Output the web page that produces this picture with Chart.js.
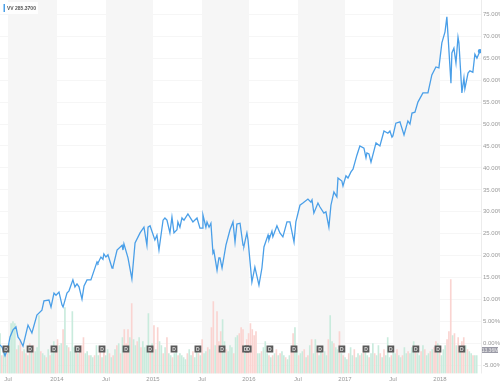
<!DOCTYPE html>
<html>
<head>
<meta charset="utf-8">
<style>
  html, body { margin: 0; padding: 0; background: #fff; }
  canvas { display: block; }
</style>
<script src="https://cdn.jsdelivr.net/npm/chart.js@4"></script>
</head>
<body>
<canvas id="chart" width="500" height="384"></canvas>
<script>
// weeks since the left edge of the chart
const priceWeeks = [
  0, 1.1, 2.7, 4.3, 5.4, 7, 8.6, 9.7, 10.8, 12.4, 15.1, 17.2, 19.9, 22.6, 23.7, 26.4, 27.5, 29.1, 30.2, 31.8,
  33.4, 34, 36.1, 37.2, 39.3, 40.4, 41.5, 42.6, 44.2, 45.3, 46.9, 49, 52.3, 52.8, 54.4, 55.5, 56, 57.1, 58.2, 60.4,
  60.9, 63.1, 65.8, 66.3, 66.8, 69, 71.1, 72.8, 75.5, 77.6, 79.2, 79.8, 80.9, 83.5, 84.6, 85.7, 87.9, 88.9, 90, 91.6,
  92.7, 93.8, 95.4, 95.9, 97, 98.1, 99.2, 101.3, 104, 106.2, 107.8, 108.9, 109.4, 111, 111.6, 112.7, 113.7, 114.8, 115.3, 117,
  118, 118.6, 119.7, 121.8, 124, 125.6, 126.7, 127.7, 129.4, 131, 131.5, 133.1, 133.7, 135.8, 137.4, 139.6, 141.2, 142.3, 144.5, 145,
  146.6, 147.1, 149.3, 150.9, 152.5, 154.7, 156.3, 158.5, 159.5, 161.7, 163.3, 166, 167.6, 168.2, 169.2, 171.4, 172.5, 174.6, 175.7, 177.3,
  178.4, 180, 181.6, 182.2, 184.3, 184.9, 186.5, 187.6, 189.2, 190.3, 192.4, 194, 196.2, 197.3, 197.8, 198.9, 200, 202.7, 204.8, 207,
  209.1, 210.2, 211.3, 211.8, 213.4, 215.6, 217.8, 219.9, 221, 222.1, 223.7, 225.3, 228, 230.7, 232.8, 235, 236.6, 238.2, 239.9, 240.9,
  243.1, 243.6, 244.7, 245.8, 246.9, 247.4, 249, 250.1, 250.6, 252.3, 253.3, 254.9, 256, 257.1, 258.7
];
// percent change
const priceValues = [
  -0.3, -0.8, -2.8, -1, 1.5, 3.1, 3.8, 1.5, 0.8, -0.6, 4.2, 2.4, 6.5, 7.6, 9.7, 9.9, 8.3, 11.5, 11, 11.7,
  8.8, 8.3, 11.5, 12, 14.5, 12.9, 13.6, 12.9, 10.1, 13.1, 14.5, 14.5, 18.6, 18.3, 19.7, 19.2, 20.4, 19.7, 20.2, 17.2,
  17.4, 21.3, 22.4, 21.3, 22.7, 19.5, 14.7, 22.9, 25.2, 26.5, 22.4, 26.5, 26.8, 23.6, 24.7, 21.3, 28.1, 28.6, 28.1, 25.2,
  28.8, 25.2, 25.9, 27.7, 26.5, 28.6, 28.1, 29.5, 27.7, 28.6, 26.3, 26.3, 29.3, 26.5, 27.7, 26.5, 27.4, 20.6, 21.1, 16.7,
  19.5, 19.5, 17.2, 22.4, 25.9, 27.7, 23.1, 27.2, 27.4, 22.4, 22.2, 25.2, 23.6, 14, 17.4, 13.3, 17.2, 22, 24.7, 23.6,
  25.6, 24.3, 26.8, 25.2, 24.3, 27.7, 27.7, 23.1, 27.7, 31.5, 32, 32.9, 32.2, 32.7, 29.7, 32, 31.1, 29.7, 30, 26.5,
  31.5, 34.5, 33.4, 37.7, 37, 35.9, 38.2, 37.7, 39.1, 39.7, 42.9, 45, 44.5, 42.3, 43.4, 43.2, 41.3, 45.7, 45, 48.4,
  47.9, 48.4, 47, 47.3, 50.2, 50.5, 47.5, 50.7, 50, 52.5, 52.7, 55, 57.1, 57.1, 61.2, 63, 62.8, 68.5, 71, 74.4,
  59.3, 66.2, 67.3, 63.9, 69.8, 68.5, 57.1, 60.5, 58, 61.6, 62.1, 61.8, 65.9, 65, 66.6
];
// weekly volume, millions of shares
const volumeValues = [
  20, 9, 11, 10, 10, 15, 25, 26, 25, 12,
  14, 17, 11, 12, 10, 9, 15, 12, 14, 11,
  13, 29, 11, 10, 9, 8, 12, 9, 10, 16,
  12, 17, 14, 15, 22, 33, 14, 13, 11, 31,
  13, 12, 10, 12, 14, 18, 10, 11, 9, 9,
  8, 9, 14, 9, 11, 8, 13, 9, 12, 10,
  8, 9, 12, 14, 15, 10, 18, 22, 15, 22,
  18, 35, 17, 14, 16, 18, 13, 16, 13, 14,
  30, 13, 15, 24, 12, 23, 16, 14, 10, 13,
  18, 10, 9, 8, 10, 11, 9, 10, 9, 8,
  7, 10, 12, 9, 11, 8, 13, 10, 9, 17,
  10, 11, 13, 12, 23, 36, 14, 31, 16, 21,
  27, 16, 12, 11, 14, 13, 10, 18, 19, 20,
  23, 22, 14, 17, 20, 25, 22, 19, 21, 10,
  10, 11, 13, 16, 10, 9, 8, 9, 10, 12,
  9, 10, 11, 9, 8, 7, 9, 13, 20, 23,
  12, 9, 10, 11, 12, 8, 9, 14, 17, 10,
  17, 12, 9, 11, 10, 11, 9, 17, 29, 16,
  15, 13, 12, 21, 10, 9, 8, 7, 10, 13,
  9, 12, 8, 10, 9, 10, 13, 11, 9, 8,
  10, 15, 10, 9, 14, 10, 8, 12, 9, 18,
  8, 9, 11, 10, 12, 9, 8, 9, 13, 10,
  11, 10, 13, 16, 12, 10, 9, 11, 14, 12,
  9, 10, 11, 12, 13, 16, 15, 11, 9, 12,
  14, 17, 21, 47, 19, 20, 14, 18, 13, 16,
  18, 14, 12, 11, 10, 9, 9, 9
];
// 1 = up week, 0 = down week
const volumeUp = [
  1, 0, 1, 1, 0, 1, 1, 1, 1, 0,
  1, 0, 0, 1, 0, 1, 0, 1, 0, 1,
  1, 1, 0, 1, 1, 0, 1, 0, 1, 1,
  0, 0, 1, 1, 0, 1, 1, 0, 1, 1,
  1, 0, 1, 0, 0, 0, 1, 1, 0, 1,
  1, 0, 1, 1, 0, 1, 0, 1, 1, 0,
  1, 0, 1, 0, 1, 0, 1, 0, 0, 0,
  1, 0, 1, 1, 0, 1, 0, 1, 1, 1,
  1, 0, 1, 0, 1, 0, 1, 1, 0, 1,
  0, 1, 1, 0, 1, 1, 0, 1, 1, 1,
  1, 0, 1, 1, 0, 1, 1, 0, 1, 0,
  1, 1, 0, 1, 0, 0, 1, 0, 0, 0,
  1, 1, 0, 1, 1, 1, 0, 1, 1, 0,
  0, 0, 1, 0, 0, 0, 0, 0, 0, 1,
  1, 0, 1, 1, 1, 0, 1, 0, 1, 0,
  1, 0, 1, 1, 0, 1, 1, 0, 0, 1,
  1, 0, 1, 1, 0, 1, 0, 1, 0, 1,
  1, 0, 1, 1, 0, 1, 1, 0, 1, 1,
  0, 1, 1, 0, 1, 0, 1, 1, 0, 1,
  1, 0, 1, 1, 0, 1, 0, 1, 1, 0,
  1, 1, 0, 1, 1, 0, 1, 0, 1, 1,
  1, 0, 1, 1, 0, 1, 1, 0, 1, 1,
  0, 1, 1, 1, 0, 1, 1, 0, 1, 0,
  1, 1, 0, 1, 0, 0, 1, 0, 1, 1,
  1, 0, 0, 0, 1, 0, 1, 0, 1, 0,
  0, 1, 0, 1, 1, 0, 1, 1
];
const dividendWeeks = [
  3.2, 16.2, 29.1, 42, 55, 67.9, 80.9, 93.8, 106.7, 119.7,
  132.4, 133.8, 145.5, 158.5, 172.5, 184.3, 197.3, 210.7, 224.2, 236.1, 249
];
const xTickWeeks = [4.3, 30.7, 57.1, 82.5, 108.9, 134.2, 160.6, 186, 211.9, 237.2];
const xTickLabels = ['Jul', '2014', 'Jul', '2015', 'Jul', '2016', 'Jul', '2017', 'Jul', '2018'];
const yTicks = [-5, 0, 5, 10, 15, 20, 25, 30, 35, 40, 45, 50, 55, 60, 65, 70, 75];
// every other half year is shaded
const shadedFrom = [4.3, 57.1, 108.9, 160.6, 211.9];
const shadedTo = [30.7, 82.5, 134.2, 186, 237.2];

const FONT = '"Liberation Sans", Arial, sans-serif';
const lineColor = '#4a9fe8';

const overlay = {
  id: 'overlay',
  beforeDraw(chart) {
    const { ctx, chartArea, scales } = chart;
    ctx.save();
    ctx.fillStyle = '#f6f6f6';
    shadedFrom.forEach((from, i) => {
      const a = scales.x.getPixelForValue(from);
      const b = scales.x.getPixelForValue(shadedTo[i]);
      ctx.fillRect(a, chartArea.top, b - a, chartArea.bottom - chartArea.top);
    });
    ctx.restore();
  },
  afterDraw(chart) {
    const { ctx, chartArea } = chart;
    ctx.save();

    // the D on each dividend marker
    ctx.fillStyle = '#ddd';
    ctx.font = 'bold 5px ' + FONT;
    ctx.textAlign = 'center';
    ctx.textBaseline = 'middle';
    chart.getDatasetMeta(2).data.forEach(pt => ctx.fillText('D', pt.x, pt.y + 0.5));

    // symbol box top left
    ctx.fillStyle = 'rgba(255,255,255,0.9)';
    ctx.fillRect(2, 2, 36, 12);
    ctx.fillStyle = lineColor;
    ctx.fillRect(3.5, 4, 1.5, 8);
    ctx.fillStyle = '#555';
    ctx.font = 'bold 5px ' + FONT;
    ctx.textAlign = 'left';
    ctx.fillText('VV 285.3700', 7, 8.5);

    // last volume tag on the right axis
    ctx.fillStyle = '#9a9aa6';
    ctx.fillRect(chartArea.right + 1, 347, 16, 6);
    ctx.fillStyle = '#eee';
    ctx.textAlign = 'center';
    ctx.font = '5px ' + FONT;
    ctx.fillText('13.36M', chartArea.right + 9, 350.5);

    // right axis border
    ctx.strokeStyle = '#ececec';
    ctx.beginPath();
    ctx.moveTo(chartArea.right + 0.5, 0);
    ctx.lineTo(chartArea.right + 0.5, chartArea.bottom);
    ctx.stroke();
    ctx.restore();
  }
};

new Chart(document.getElementById('chart'), {
  data: {
    datasets: [
      {
        type: 'line',
        label: 'VV',
        data: priceWeeks.map((w, i) => ({ x: w, y: priceValues[i] })),
        yAxisID: 'y',
        borderColor: lineColor,
        backgroundColor: lineColor,
        borderWidth: 1.3,
        tension: 0,
        pointRadius: ctx => (ctx.dataIndex === priceWeeks.length - 1 ? 1.5 : 0),
        order: 1,
      },
      {
        type: 'bar',
        label: 'Volume',
        data: volumeValues.map((v, i) => ({ x: i, y: v })),
        yAxisID: 'vol',
        backgroundColor: volumeUp.map(u => (u ? '#c9ebdd' : '#fad4d1')),
        barThickness: 1,
        order: 3,
      },
      {
        type: 'scatter',
        label: 'Dividends',
        data: dividendWeeks.map(w => ({ x: w, y: -1.25 })),
        yAxisID: 'y',
        pointStyle: 'rect',
        pointRadius: 4.8,
        backgroundColor: '#5a5a5a',
        borderWidth: 0,
        order: 0,
      },
    ],
  },
  options: {
    responsive: false,
    animation: false,
    layout: { padding: 0, autoPadding: false },
    plugins: { legend: { display: false }, tooltip: { enabled: false } },
    scales: {
      x: {
        type: 'linear',
        min: 0,
        max: 259.3,
        offset: false,
        border: { display: false },
        grid: { display: false, drawTicks: false },
        afterBuildTicks: s => { s.ticks = xTickWeeks.map(v => ({ value: v })); },
        afterFit: s => { s.height = 10.5; },
        ticks: {
          callback: (v, i) => xTickLabels[i],
          autoSkip: false,
          maxRotation: 0,
          padding: 2,
          color: '#999',
          font: { family: FONT, size: 6 },
        },
      },
      y: {
        position: 'right',
        min: -6.83,
        max: 78.25,
        border: { display: false },
        grid: { color: '#f6f6f6', drawTicks: false },
        afterBuildTicks: s => { s.ticks = yTicks.map(v => ({ value: v })); },
        // the plot runs right up to the top edge, no room kept for the label
        beforeFit: s => {
          s._calculatePadding = () => {
            s.paddingTop = 0;
            s.paddingBottom = 0;
            s.paddingLeft = 0;
            s.paddingRight = 0;
          };
        },
        afterFit: s => { s.width = 19; },
        ticks: {
          callback: v => v.toFixed(2) + '%',
          autoSkip: false,
          padding: 2,
          color: '#999',
          font: { family: FONT, size: 6 },
        },
      },
      vol: {
        display: false,
        min: 0,
        max: 186.75,
      },
    },
  },
  plugins: [overlay],
});
</script>
</body>
</html>
